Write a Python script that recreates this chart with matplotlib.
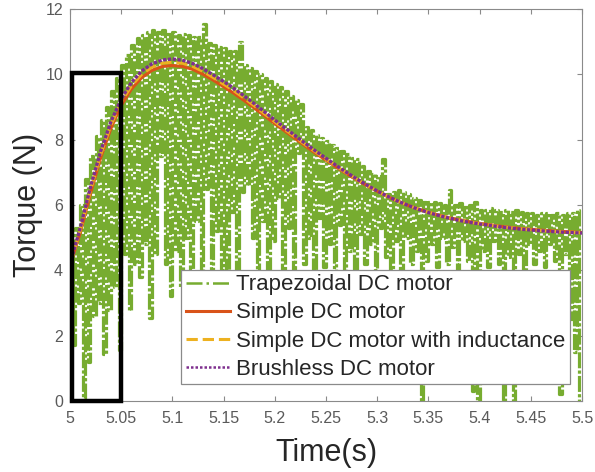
import numpy as np
import matplotlib
matplotlib.use("Agg")
import matplotlib.pyplot as plt
from matplotlib.patches import Rectangle
from matplotlib.lines import Line2D

plt.rcParams['font.family'] = ['Liberation Sans', 'DejaVu Sans']

# ---- data ----
t_curve = [5.000, 5.005, 5.010, 5.020, 5.030, 5.040, 5.050, 5.060, 5.070, 5.080,
           5.090, 5.100, 5.110, 5.120, 5.130, 5.140, 5.150, 5.160, 5.170, 5.180,
           5.190, 5.200, 5.210, 5.220, 5.230, 5.240, 5.250, 5.260, 5.270, 5.280,
           5.290, 5.300, 5.310, 5.320, 5.330, 5.340, 5.350, 5.360, 5.370, 5.380,
           5.390, 5.400, 5.420, 5.440, 5.460, 5.480, 5.500]

simple_dc = [4.15, 4.65, 5.15, 6.35, 7.45, 8.35, 9.05, 9.55, 9.90, 10.12,
             10.24, 10.27, 10.24, 10.15, 10.00, 9.82, 9.62, 9.42, 9.20, 8.97,
             8.73, 8.49, 8.26, 8.03, 7.80, 7.58, 7.37, 7.16, 6.96, 6.77,
             6.59, 6.42, 6.26, 6.12, 5.99, 5.88, 5.78, 5.69, 5.61, 5.55,
             5.49, 5.44, 5.35, 5.28, 5.23, 5.19, 5.16]

simple_dc_ind = [4.18, 4.70, 5.22, 6.45, 7.55, 8.45, 9.15, 9.65, 10.00, 10.22,
                 10.34, 10.37, 10.34, 10.24, 10.09, 9.90, 9.70, 9.50, 9.27, 9.04,
                 8.79, 8.55, 8.31, 8.08, 7.84, 7.62, 7.40, 7.19, 6.98, 6.79,
                 6.60, 6.43, 6.27, 6.12, 5.99, 5.88, 5.78, 5.69, 5.61, 5.54,
                 5.48, 5.43, 5.34, 5.27, 5.22, 5.18, 5.15]

brushless_dc = [4.20, 4.75, 5.30, 6.55, 7.65, 8.55, 9.25, 9.75, 10.10, 10.32,
                10.44, 10.47, 10.43, 10.33, 10.17, 9.98, 9.78, 9.57, 9.34, 9.10,
                8.85, 8.60, 8.36, 8.12, 7.88, 7.65, 7.43, 7.21, 7.00, 6.80,
                6.61, 6.43, 6.27, 6.12, 5.99, 5.87, 5.77, 5.68, 5.60, 5.53,
                5.47, 5.42, 5.33, 5.26, 5.21, 5.17, 5.14]

# trapezoidal DC motor: sampled peaks and troughs of the oscillation
trap_t_start = 5.0
trap_step = 0.005
trap_high = [4.6, 5.3, 6.0, 6.8, 7.5, 8.1, 8.6, 9.0, 9.5, 9.9,
             10.3, 10.6, 10.9, 11.1, 11.2, 11.3, 11.35, 11.3, 11.35, 11.25,
             11.3, 11.2, 11.25, 11.2, 11.15, 11.15, 11.55, 10.95, 10.9, 10.85,
             10.8, 10.7, 10.7, 11.0, 10.3, 10.2, 10.1, 10.0, 9.9, 9.8,
             9.7, 9.6, 9.5, 9.35, 9.2, 9.1, 8.4, 8.3, 8.15, 8.05,
             7.95, 7.85, 7.75, 7.65, 7.55, 7.45, 7.4, 7.2, 7.05, 6.95,
             6.9, 7.4, 6.35, 6.4, 6.45, 6.4, 6.35, 6.2, 6.15, 6.1,
             6.1, 6.1, 6.05, 6.0, 6.45, 6.0, 6.05, 5.95, 6.0, 6.1,
             5.85, 5.85, 5.9, 5.85, 5.8, 5.85, 5.8, 5.85, 5.8, 5.75,
             5.75, 5.7, 5.75, 5.75, 5.7, 5.75, 5.7, 5.75, 5.75, 5.85]
trap_low = [1.7, 3.0, 0.1, 1.2, 2.6, 3.0, 1.45, 2.8, 3.5, 1.55,
            4.5, 2.8, 4.2, 3.8, 4.8, 2.55, 4.5, 7.5, 4.2, 3.2,
            4.6, 3.5, 5.0, 3.8, 5.5, 4.0, 6.5, 3.9, 5.2, 4.0,
            3.9, 5.8, 3.8, 6.4, 6.6, 5.0, 3.9, 5.5, 3.8, 4.9,
            6.2, 3.9, 5.3, 4.0, 7.6, 4.2, 5.0, 3.9, 5.6, 4.1,
            4.8, 3.8, 5.4, 4.0, 4.6, 3.9, 5.1, 4.2, 4.8, 4.0,
            5.3, 4.4, 4.0, 4.9, 3.9, 5.0, 4.2, 4.6, 0.0, 4.3,
            4.8, 4.1, 5.0, 4.2, 4.7, 4.0, 4.9, 4.3, 0.3, 0.0,
            4.6, 4.1, 4.9, 4.2, 0.0, 4.4, 0.0, 4.5, 4.0, 4.8,
            4.2, 4.6, 4.1, 4.8, 4.3, 0.2, 4.5, 2.5, 1.5, 0.0]

labels = ['Trapezoidal DC motor', 'Simple DC motor',
          'Simple DC motor with inductance', 'Brushless DC motor']
x_ticks = [5, 5.05, 5.1, 5.15, 5.2, 5.25, 5.3, 5.35, 5.4, 5.45, 5.5]
x_ticklabels = ['5', '5.05', '5.1', '5.15', '5.2', '5.25', '5.3', '5.35', '5.4', '5.45', '5.5']
y_ticks = [0, 2, 4, 6, 8, 10, 12]

# build the interleaved oscillation
n = len(trap_high)
t_h = trap_t_start + trap_step * np.arange(n)
trap_t = np.empty(2 * n)
trap_v = np.empty(2 * n)
trap_t[0::2] = t_h
trap_t[1::2] = t_h + trap_step / 2
trap_v[0::2] = trap_high
trap_v[1::2] = trap_low

# ---- plot ----
fig = plt.figure(figsize=(5.95, 4.72), dpi=100)
ax = fig.add_axes([70 / 595, 1 - 401 / 472, 512 / 595, 392 / 472])

green = '#77AC30'
red = '#D95319'
orange = '#EDB120'
purple = '#7E2F8E'

ax.plot(trap_t, trap_v, color=green, lw=2.3, ls=(0, (5, 0.7, 1, 0.7)),
        drawstyle='steps-post', zorder=2)
ax.plot(t_curve, simple_dc, color=red, lw=2.2, ls='-', zorder=3)
ax.plot(t_curve, simple_dc_ind, color=orange, lw=2.2, ls='--', zorder=4)
ax.plot(t_curve, brushless_dc, color=purple, lw=2.4, ls=(0, (1, 0.45)), zorder=5)

ax.add_patch(Rectangle((5.002, 0.0), 0.048, 10.05, fill=False, edgecolor='black',
                       lw=3.2, zorder=6, clip_on=False))

ax.set_xlim(5, 5.5)
ax.set_ylim(0, 12)
ax.set_xticks(x_ticks)
ax.set_xticklabels(x_ticklabels)
ax.set_yticks(y_ticks)

spine_col = '#8a8a8a'
for s in ax.spines.values():
    s.set_color(spine_col)
    s.set_linewidth(0.8)
ax.tick_params(direction='in', length=3.6, width=0.8, color=spine_col,
               labelsize=11.5, labelcolor='#5a5a5a', top=True, right=True)
ax.tick_params(axis='x', pad=7)
ax.tick_params(axis='y', pad=5)

ax.set_xlabel('Time(s)', fontsize=22, color='#262626', labelpad=9)
ax.set_ylabel('Torque (N)', fontsize=22, color='#262626', labelpad=2)

handles = [Line2D([], [], color=green, lw=1.8, ls='-.'),
           Line2D([], [], color=red, lw=2.2, ls='-'),
           Line2D([], [], color=orange, lw=2.2, ls='--'),
           Line2D([], [], color=purple, lw=1.8, ls=(0, (1, 0.8)))]
leg = ax.legend(handles, labels, loc='lower right', bbox_to_anchor=(0.9766, 0.043),
                borderaxespad=0, fontsize=16, handlelength=2.0, handletextpad=0.27,
                borderpad=0.2, labelspacing=0.32, fancybox=False, framealpha=1,
                edgecolor='#8a8a8a')
leg.get_frame().set_linewidth(0.9)
leg.set_zorder(10)
for txt in leg.get_texts():
    txt.set_color('#262626')

fig.savefig('out.png', dpi=100)
